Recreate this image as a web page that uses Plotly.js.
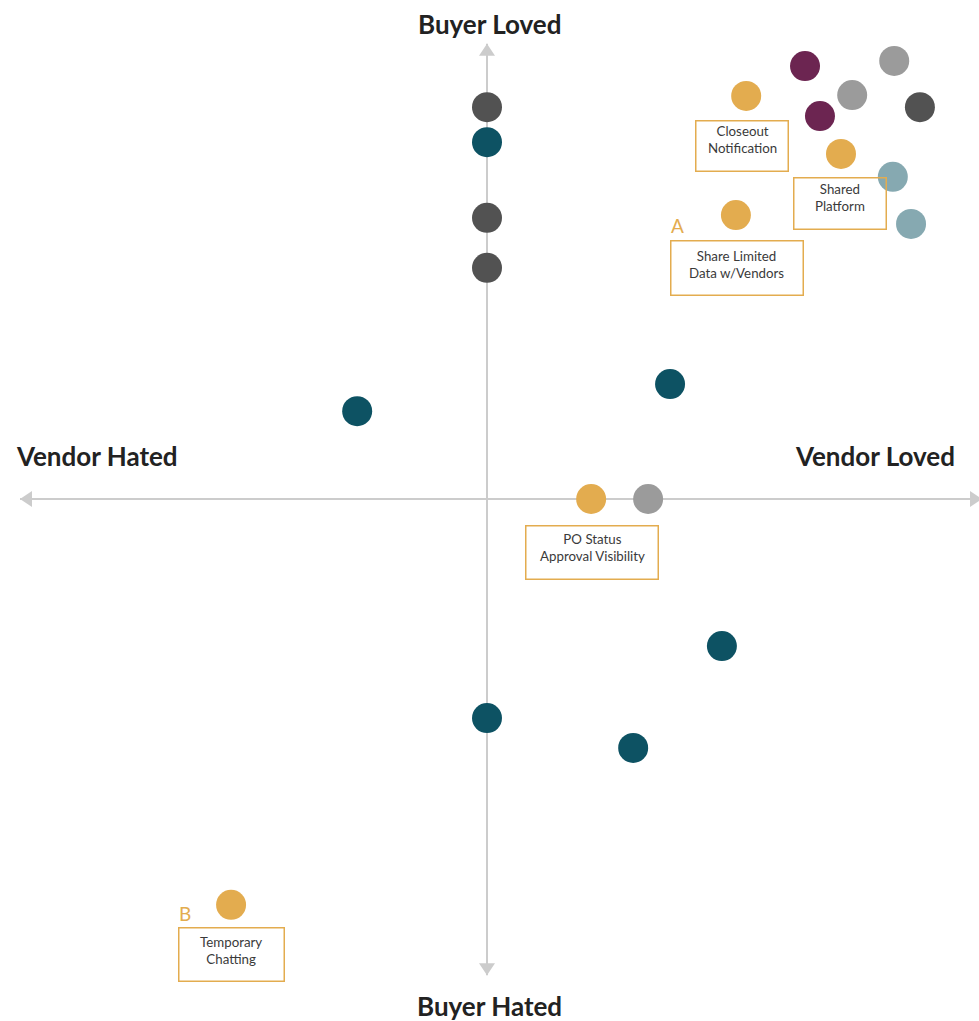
<!DOCTYPE html>
<html>
<head>
<meta charset="utf-8">
<script src="https://cdn.plot.ly/plotly-3.0.1.min.js"></script>
<style>html,body{margin:0;padding:0;background:#fff;}#chart{width:979px;height:1021px;}</style>
</head>
<body>
<div id="chart"></div>
<script>
// ---- data (x: vendor sentiment, y: buyer sentiment) ----
const orangeX = [5.55, 7.58, 5.33, 2.23, -5.48];
const orangeY = [8.63, 7.39, 6.08, 0.00, -8.69];
const orangeLabels = ["Closeout<br>Notification", "Shared<br>Platform", "Share Limited<br>Data w/Vendors", "PO Status<br>Approval Visibility", "Temporary<br>Chatting"];
const orangeTags = ["", "", "A", "", "B"];

const darkGrayX = [0, 0, 0, 9.27];
const darkGrayY = [8.39, 6.02, 4.95, 8.39];

const tealX = [0, -2.78, 3.92, 5.03, 0, 3.13];
const tealY = [7.64, 1.88, 2.46, -3.15, -4.69, -5.33];

const purpleX = [6.81, 7.13];
const purpleY = [9.27, 8.20];

const lightGrayX = [8.72, 7.82, 3.45];
const lightGrayY = [9.38, 8.65, 0.00];

const lightTealX = [8.69, 9.08];
const lightTealY = [6.90, 5.89];

const axisTitles = {top: "Buyer Loved", bottom: "Buyer Hated", left: "Vendor Hated", right: "Vendor Loved"};

// ---- styling / layout ----
const U = 46.7; // px per unit
const W = 979, H = 1021, cx = 487, cy = 499;
const xr = [-cx / U, (W - cx) / U];
const yr = [-(H - cy) / U, cy / U];
const axisColor = "#cccccc";
const tips = {left: -10.0, right: 10.6, top: 9.75, bottom: -10.2};

function mk(x, y, color, name) {
  return {x: x, y: y, type: "scatter", mode: "markers", name: name, hoverinfo: "skip",
    marker: {size: 30, color: color, line: {width: 0}}, cliponaxis: false};
}
const traces = [
  mk(darkGrayX, darkGrayY, "#525252", "dark gray"),
  mk(tealX, tealY, "#0d5263", "teal"),
  mk(purpleX, purpleY, "#6c2551", "purple"),
  mk(lightGrayX, lightGrayY, "#9b9b9b", "light gray"),
  mk(lightTealX, lightTealY, "#86a9b1", "light teal"),
  mk(orangeX, orangeY, "#e3ac4f", "orange")
];

function tri(tx, ty, dir) {
  const L = 12 / U, Hh = 8 / U;
  let p;
  if (dir === "left") p = [[tx, ty], [tx + L, ty + Hh], [tx + L, ty - Hh]];
  if (dir === "right") p = [[tx, ty], [tx - L, ty + Hh], [tx - L, ty - Hh]];
  if (dir === "up") p = [[tx, ty], [tx - Hh, ty - L], [tx + Hh, ty - L]];
  if (dir === "down") p = [[tx, ty], [tx - Hh, ty + L], [tx + Hh, ty + L]];
  return {type: "path", xref: "x", yref: "y", layer: "below",
    path: "M" + p.map(q => q[0] + "," + q[1]).join(" L") + " Z",
    fillcolor: axisColor, line: {width: 0}};
}
const shapes = [
  {type: "line", xref: "x", yref: "y", x0: tips.left, x1: tips.right, y0: 0, y1: 0, line: {color: axisColor, width: 2}, layer: "below"},
  {type: "line", xref: "x", yref: "y", x0: 0, x1: 0, y0: tips.bottom, y1: tips.top, line: {color: axisColor, width: 2}, layer: "below"},
  tri(tips.left, 0, "left"), tri(tips.right, 0, "right"), tri(0, tips.top, "up"), tri(0, tips.bottom, "down")
];

const boxStyle = [
  {dx: -4, dy: -50, w: 94, h: 52, ty: 6},
  {dx: -1, dy: -50, w: 94, h: 53, ty: 6},
  {dx: 1, dy: -53, w: 134, h: 56, ty: 4},
  {dx: 1, dy: -53, w: 134, h: 55, ty: 4.5},
  {dx: 0, dy: -50, w: 107, h: 55, ty: 4}
];
const tagShift = [null, null, {dx: -58, dy: -10}, null, {dx: -46, dy: -9}];

const annotations = [];
orangeLabels.forEach((t, i) => {
  const b = boxStyle[i];
  // border box
  annotations.push({x: orangeX[i], y: orangeY[i], xref: "x", yref: "y", text: " ", showarrow: false,
    xshift: b.dx, yshift: b.dy, width: b.w - 3, height: b.h - 3,
    bordercolor: "#e3ac4f", borderwidth: 1.5, borderpad: 0, font: {size: 10}});
  // label text
  annotations.push({x: orangeX[i], y: orangeY[i], xref: "x", yref: "y", text: t, showarrow: false,
    xshift: b.dx, yshift: b.dy + b.ty, align: "center", valign: "middle",
    font: {family: "Lato, 'Open Sans', sans-serif", size: 13.3, color: "#3a3a3a"}});
  if (orangeTags[i]) {
    const s = tagShift[i];
    annotations.push({x: orangeX[i], y: orangeY[i], xref: "x", yref: "y", text: orangeTags[i], showarrow: false,
      xshift: s.dx, yshift: s.dy, font: {family: "Lato, sans-serif", size: 19, color: "#e3ac4f"}});
  }
});
const titleFont = {family: "Lato, 'Open Sans', sans-serif", size: 26, color: "#222222", weight: 900};
function ttl(text, px, py) {
  return {x: px / W, y: 1 - py / H, xref: "paper", yref: "paper", text: "<b>" + text + "</b>", showarrow: false,
    xanchor: "center", yanchor: "middle", font: titleFont};
}
annotations.push(ttl(axisTitles.top, 490, 24));
annotations.push(ttl(axisTitles.bottom, 490, 1006));
annotations.push(ttl(axisTitles.left, 97, 456));
annotations.push(ttl(axisTitles.right, 875, 456));

const layout = {
  width: W, height: H, margin: {l: 0, r: 0, t: 0, b: 0},
  paper_bgcolor: "#ffffff", plot_bgcolor: "#ffffff", showlegend: false,
  xaxis: {range: xr, visible: false, fixedrange: true},
  yaxis: {range: yr, visible: false, fixedrange: true},
  shapes: shapes, annotations: annotations
};
Plotly.newPlot("chart", traces, layout, {displayModeBar: false, staticPlot: true});
</script>
</body>
</html>
